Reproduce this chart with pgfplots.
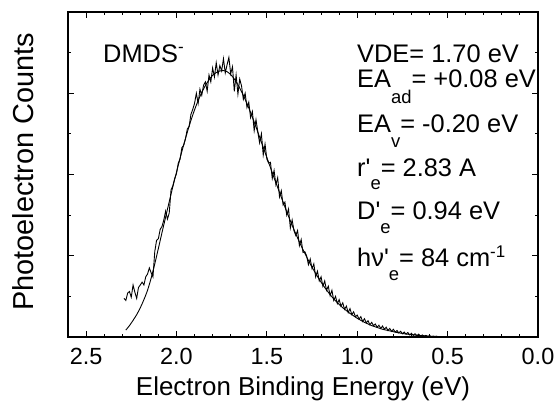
\documentclass[border=0pt]{standalone}
\usepackage{fontspec}
\setmainfont{Liberation Sans}
\usepackage{pgfplots}
\usepackage{pgfplotstable}
\pgfplotsset{compat=1.18}
\pgfplotstableread{
x y
2.28 0.17
2.26 0.28
2.24 0.41
2.22 0.55
2.20 0.72
2.18 0.92
2.16 1.15
2.14 1.45
2.12 1.80
2.10 2.18
2.08 2.57
2.06 2.95
2.04 3.33
2.02 3.70
2.00 4.05
1.98 4.40
1.96 4.73
1.94 5.04
1.92 5.33
1.90 5.59
1.88 5.82
1.86 6.02
1.84 6.19
1.82 6.33
1.80 6.44
1.78 6.51
1.76 6.55
1.74 6.56
1.72 6.53
1.70 6.46
1.68 6.35
1.66 6.21
1.64 6.04
1.62 5.85
1.60 5.64
1.58 5.41
1.56 5.17
1.54 4.92
1.52 4.67
1.50 4.42
1.48 4.17
1.46 3.92
1.44 3.68
1.42 3.44
1.40 3.20
1.38 2.97
1.36 2.75
1.34 2.54
1.32 2.34
1.30 2.15
1.28 1.97
1.26 1.80
1.24 1.64
1.22 1.49
1.20 1.35
1.18 1.22
1.16 1.10
1.14 0.99
1.12 0.89
1.10 0.80
1.08 0.72
1.06 0.65
1.04 0.58
1.02 0.52
1.00 0.46
0.98 0.41
0.96 0.36
0.94 0.32
0.92 0.28
0.90 0.25
0.88 0.22
0.86 0.19
0.84 0.17
0.82 0.15
0.80 0.13
0.78 0.11
0.76 0.095
0.74 0.08
0.72 0.068
0.70 0.057
0.68 0.047
0.66 0.039
0.64 0.032
0.62 0.026
0.60 0.021
0.58 0.017
0.56 0.013
0.54 0.010
0.52 0.008
0.50 0.006
}\fit
\pgfplotstableread{
x y
2.29 0.95
2.28 0.90
2.27 1.08
2.26 1.12
2.25 0.98
2.24 1.28
2.23 1.10
2.22 0.95
2.21 1.22
2.20 1.28
2.19 1.35
2.18 1.28
2.17 1.48
2.16 1.55
2.15 1.70
2.14 1.58
2.13 1.48
2.12 2.10
2.11 2.38
2.10 2.42
2.09 2.65
2.08 2.72
2.07 2.88
2.06 3.10
2.05 2.90
2.04 3.05
2.03 3.62
2.02 3.72
2.01 3.90
2.00 4.02
1.99 4.28
1.98 4.38
1.97 4.66
1.96 4.72
1.95 4.88
1.94 5.12
1.93 5.18
1.92 5.48
1.91 5.60
1.90 5.75
1.89 6.00
1.88 5.75
1.87 6.10
1.86 5.95
1.85 6.20
1.84 6.28
1.83 6.05
1.82 6.45
1.81 6.28
1.80 6.62
1.79 6.40
1.78 6.75
1.77 6.45
1.76 6.68
1.75 6.55
1.74 6.85
1.73 6.50
1.72 6.70
1.71 6.88
1.70 6.48
1.69 6.65
1.68 6.05
1.67 6.45
1.66 5.98
1.65 6.35
1.64 6.18
1.63 5.85
1.62 6.00
1.61 5.65
1.60 5.78
1.59 5.40
1.58 5.55
1.57 5.08
1.56 5.35
1.55 5.05
1.54 4.78
1.53 5.00
1.52 4.48
1.51 4.75
1.50 4.38
1.49 4.28
1.48 4.30
1.47 3.90
1.46 4.10
1.45 3.75
1.44 3.92
1.43 3.45
1.42 3.60
1.41 3.25
1.40 3.32
1.39 3.00
1.38 3.15
1.37 2.68
1.36 2.88
1.35 2.62
1.34 2.50
1.33 2.62
1.32 2.25
1.31 2.40
1.30 2.08
1.29 2.10
1.28 2.00
1.27 1.78
1.26 1.92
1.25 1.68
1.24 1.80
1.23 1.48
1.22 1.62
1.21 1.38
1.20 1.48
1.19 1.25
1.18 1.38
1.17 1.15
1.16 1.25
1.15 1.02
1.14 1.15
1.13 0.90
1.12 1.00
1.11 0.82
1.10 0.92
1.09 0.76
1.08 0.84
1.07 0.68
1.06 0.76
1.05 0.60
1.04 0.70
1.03 0.55
1.02 0.62
1.01 0.50
1.00 0.54
0.99 0.44
0.98 0.50
0.97 0.38
0.96 0.45
0.95 0.35
0.94 0.40
0.93 0.30
0.92 0.36
0.91 0.28
0.90 0.32
0.89 0.24
0.88 0.29
0.87 0.21
0.86 0.27
0.85 0.19
0.84 0.24
0.83 0.16
0.82 0.21
0.81 0.14
0.80 0.19
0.79 0.12
0.78 0.16
0.77 0.10
0.76 0.14
0.75 0.08
0.74 0.12
0.73 0.07
0.72 0.11
0.71 0.05
0.70 0.09
0.69 0.04
0.68 0.08
0.67 0.03
0.66 0.07
0.65 0.02
0.64 0.05
0.63 0.02
0.62 0.04
0.61 0.01
0.60 0.03
0.59 0.01
0.58 0.02
0.57 0.00
0.56 0.02
0.55 0.00
0.54 0.01
0.53 0.00
0.52 0.01
0.51 0.00
0.50 0.01
0.49 0.00
0.48 0.01
0.47 0.00
0.46 0.005
0.45 0.00
}\data
\newcommand{\fs}[1]{\fontsize{#1}{#1}\selectfont}
\begin{document}
\begin{tikzpicture}
\begin{axis}[
  scale only axis, width=470bp, height=325bp,
  x dir=reverse, xmin=0, xmax=2.6, ymin=0, ymax=8,
  xtick={0,0.5,1,1.5,2,2.5},
  xticklabels={0.0,0.5,1.0,1.5,2.0,2.5},
  minor xtick={0.1,0.2,0.3,0.4,0.6,0.7,0.8,0.9,1.1,1.2,1.3,1.4,1.6,1.7,1.8,1.9,2.1,2.2,2.3,2.4},
  ytick={2,4,6}, minor ytick={1,3,5,7}, yticklabels={},
  major tick length=6bp, minor tick length=3bp,
  tick style={black, line width=0.9bp},
  axis line style={black, line width=1.1bp},
  xticklabel style={font=\fs{23.5}, anchor=base, yshift=-28bp},
]
\addplot[black, line width=0.9bp] table[x=x,y=y] {\data};
\addplot[black, line width=0.9bp, smooth] table[x=x,y=y] {\fit};
\end{axis}
\def\P(#1,#2){([shift={(#1bp,#2bp)}]current axis.south west)}
\node[anchor=base, inner sep=0pt] at \P(235,-59) {\fs{26}Electron Binding Energy (eV)};
\node[anchor=base, rotate=90, inner sep=0pt] at \P(-35,165) {\fs{29}Photoelectron Counts};
\node[anchor=base west, inner sep=0pt] at \P(35,274) {\fs{25.5}DMDS\raisebox{10bp}{\fs{17}-}};
\node[anchor=base west, inner sep=0pt] at \P(289,274) {\fs{25.5}VDE= 1.70 eV};
\node[anchor=base west, inner sep=0pt] at \P(289,249) {\fs{25.5}EA\raisebox{-16bp}{\fs{18.5}ad}= +0.08 eV};
\node[anchor=base west, inner sep=0pt] at \P(289,204) {\fs{25.5}EA\raisebox{-15bp}{\fs{18.5}v}= -0.20 eV};
\node[anchor=base west, inner sep=0pt] at \P(289,160) {\fs{25.5}r\textquotesingle\raisebox{-13bp}{\fs{18.5}e}= 2.83 A};
\node[anchor=base west, inner sep=0pt] at \P(289,117) {\fs{25.5}D\textquotesingle\raisebox{-14bp}{\fs{18.5}e}= 0.94 eV};
\node[anchor=base west, inner sep=0pt] at \P(289,70) {\fs{25.5}hν\textquotesingle\raisebox{-14bp}{\fs{18.5}e}= 84 cm\raisebox{9bp}{\fs{17}-1}};
\pgfresetboundingbox
\path[use as bounding box] ([shift={(-68bp,-67bp)}]current axis.south west) rectangle ([shift={(19bp,12bp)}]current axis.north east);
\end{tikzpicture}
\end{document}
